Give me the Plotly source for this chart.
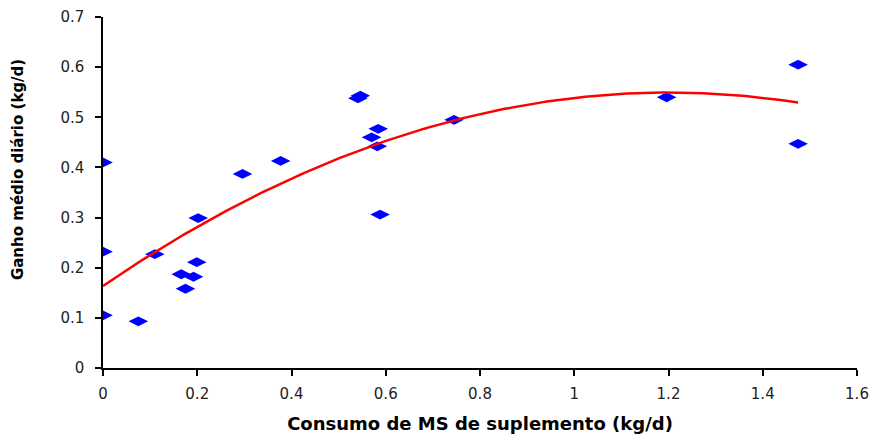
import numpy as np
import plotly.graph_objects as go

# Data
consumo_ms = [0.0, 0.0, 0.0, 0.075, 0.110, 0.166, 0.175, 0.192, 0.199, 0.202,
              0.296, 0.377, 0.541, 0.546, 0.570, 0.584, 0.582, 0.588, 0.745,
              1.196, 1.475, 1.475]
ganho_diario = [0.410, 0.232, 0.105, 0.093, 0.227, 0.187, 0.158, 0.182, 0.211, 0.299,
                0.387, 0.413, 0.538, 0.543, 0.460, 0.477, 0.442, 0.306, 0.495,
                0.540, 0.605, 0.447]

x_ticks = [0, 0.2, 0.4, 0.6, 0.8, 1, 1.2, 1.4, 1.6]
x_tick_labels = ["0", "0.2", "0.4", "0.6", "0.8", "1", "1.2", "1.4", "1.6"]
y_ticks = [0, 0.1, 0.2, 0.3, 0.4, 0.5, 0.6, 0.7]
y_tick_labels = ["0", "0.1", "0.2", "0.3", "0.4", "0.5", "0.6", "0.7"]

# Polynomial (2nd order) trendline fitted to the data
coef = np.polyfit(consumo_ms, ganho_diario, 2)
x_fit = np.linspace(min(consumo_ms), max(consumo_ms), 200)
y_fit = np.polyval(coef, x_fit)

fig = go.Figure()
fig.add_trace(go.Scatter(
    x=consumo_ms, y=ganho_diario, mode="markers",
    marker=dict(symbol="diamond-wide", size=14, color="#0000FF",
                line=dict(width=0)),
    showlegend=False, hoverinfo="x+y"))
fig.add_trace(go.Scatter(
    x=x_fit, y=y_fit, mode="lines",
    line=dict(color="#FF0000", width=2.5),
    showlegend=False, hoverinfo="skip"))

tick_font = dict(family="DejaVu Sans", size=15, color="#222222")
# page body has an 8px default margin, so size/margins compensate for it
fig.update_layout(
    width=869, height=428,
    margin=dict(l=95, r=20, t=9, b=68),
    paper_bgcolor="white", plot_bgcolor="white",
    xaxis=dict(range=[0, 1.6], tickvals=x_ticks, ticktext=x_tick_labels,
               showgrid=False, zeroline=False, showline=True, automargin=False,
               linecolor="black", linewidth=1.5, ticks="outside",
               ticklen=6, tickwidth=1.5, tickcolor="black",
               tickfont=tick_font, ticklabelstandoff=5,
               title=dict(text="<b>Consumo de MS de suplemento (kg/d)</b>",
                          font=dict(family="DejaVu Sans", size=18, color="black"),
                          standoff=16)),
    yaxis=dict(range=[0, 0.7], tickvals=y_ticks, ticktext=y_tick_labels,
               showgrid=False, zeroline=False, showline=True, automargin=False,
               linecolor="black", linewidth=1.5, ticks="outside",
               ticklen=6, tickwidth=1.5, tickcolor="black",
               tickfont=tick_font, ticklabelstandoff=8),
    annotations=[dict(
        text="<b>Ganho médio diário (kg/d)</b>",
        xref="paper", yref="paper", x=-0.1127, y=0.564,
        xanchor="center", yanchor="middle", textangle=-90, showarrow=False,
        font=dict(family="DejaVu Sans", size=15, color="black"))],
)

fig.write_html("out.html")
